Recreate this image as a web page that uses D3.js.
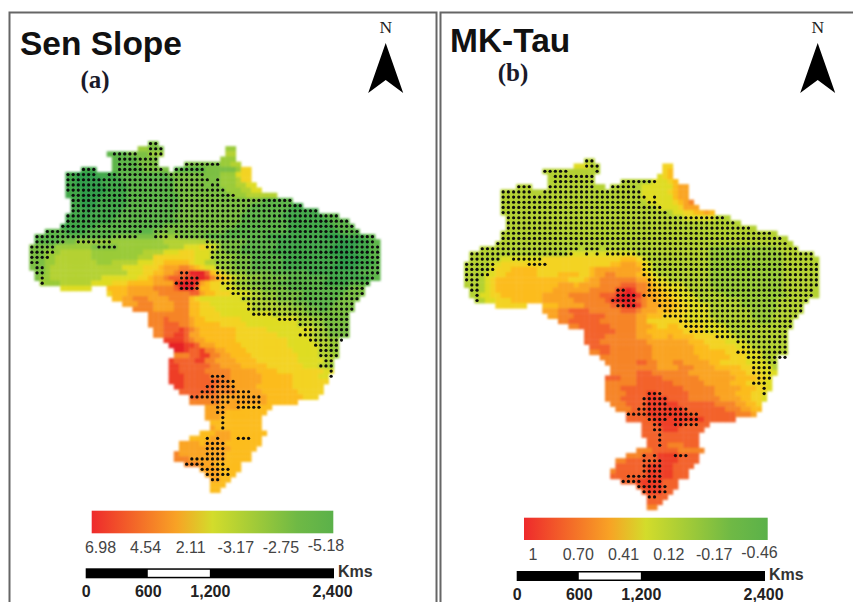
<!DOCTYPE html>
<html>
<head>
<meta charset="utf-8">
<script src="https://cdn.jsdelivr.net/npm/d3@7"></script>
<style>
	html, body { margin: 0; padding: 0; background: #fff; overflow: hidden; }
	svg { display: block; }
</style>
</head>
<body>
<div id="chart"></div>
<script>
// grid cells per row: start column, then level+run tokens ("_" = no cell)
var senCells = [
	"23 k2",
	"21 j2 k3 _12 j2",
	"15 l4 k4 j3 _12 i2",
	"16 l5 k4 _12 j3",
	"16 l5 k4 _5 k7 j2 i2",
	"10 m3 _3 l6 k5 _1 l6 k6 j1 g2",
	"7 m2 n4 m4 l10 k10 j3 h1 g2",
	"7 m2 n5 m4 l10 k9 j3 i1 g2",
	"7 m2 n5 m5 l9 k9 j3 i2 h2",
	"7 m3 n5 m4 l9 k10 j3 i2 h2",
	"7 m3 n4 m5 l10 k10 j3 i6",
	"8 m2 n3 m6 l10 k16 l6",
	"8 m2 n3 m6 l10 k14 l8 m2",
	"8 m3 n1 m6 l11 k13 l8 m6",
	"7 m3 n1 m6 l11 k13 l8 m8 l3",
	"7 m9 l13 k12 l9 m8 l4",
	"6 m7 l13 k14 l10 m9 l4",
	"3 l4 m4 l13 k14 l12 m10 l4",
	"1 l15 k9 j4 k5 l12 m11 n4 m4 l2",
	"1 l5 k3 j17 i9 j2 k5 l6 m12 n4 m2 l2",
	"0 k5 j7 k5 j10 i3 h3 g1 h2 i1 k4 l7 m11 n4 m3 l2",
	"0 k3 j3 i6 j10 i4 h3 g3 h3 i1 j2 k3 l6 m11 n5 m3 l2",
	"0 k3 j2 i7 j9 i3 g8 h3 i1 j4 k3 l6 m11 n4 m2 l2",
	"0 k3 j2 i8 j3 i5 h3 g2 f5 g1 h2 i2 j3 k4 l6 m11 n4 m3 l1",
	"0 k3 j1 i14 h4 g3 f1 e3 d2 e1 f1 g1 h2 i1 j3 k3 l6 m10 n4 m3 l2",
	"1 k2 j1 i15 h3 g2 f2 e2 d1 c2 a3 c1 f1 g1 h1 i1 j3 k5 l7 m10 l4",
	"1 k1 j2 i10 h7 g2 f1 e2 d1 c3 b2 a2 b1 d1 e1 f1 g1 h1 i2 j3 k5 l8 m8 l2",
	"2 j4 i6 h4 g3 f5 e4 b1 a3 b1 e1 f1 g2 h2 i1 j3 k5 l9 m5 l4",
	"6 h6 _3 f4 e5 d4 c1 a3 c1 f2 g2 h3 i2 j3 k5 l12 k3",
	"15 g1 f3 e6 d6 c2 e1 f2 g3 h4 i2 j3 k5 l8 k4",
	"16 f2 e2 d3 e4 d4 f1 g1 h8 i4 j3 k4 l8 k4",
	"18 e3 d3 e4 d3 f2 g2 h8 i5 j3 k3 l5 k4",
	"20 d4 e4 d3 f2 g3 h7 i7 j3 k3 l2 k5",
	"23 d8 f2 g4 h10 i5 j2 k8",
	"23 d3 c1 d4 e1 f2 g7 h9 h2 i3 j2 k5",
	"23 d3 c3 d2 e1 f5 g5 h10 i3 j2 k5",
	"24 d2 c3 b1 c1 d1 e1 f7 g6 h9 i2 j1 k4",
	"24 d2 c2 b2 c1 e2 f7 g8 h6 i2 j2 k4",
	"26 b4 c1 d1 e2 f6 g10 h5 i3 j2",
	"27 a3 b2 c1 e3 f5 g9 h6 i2 j2",
	"28 a2 b1 c2 b1 d2 e2 f4 g9 h5 i2 j2",
	"28 d3 c2 b2 d2 e2 f4 g9 h4 i3 j1",
	"27 b1 c4 b2 d2 e4 f4 g8 h5 i2",
	"27 b2 c6 d2 e4 f5 g7 h3 i2 j1",
	"27 b2 c5 d5 e5 f4 g9 h2",
	"27 b3 c5 d4 e6 f6 g5 h2",
	"27 b3 c7 d2 e6 f6 g7",
	"28 b2 c6 d3 e5 f7 g6",
	"29 c7 d4 e5 f7 g5",
	"31 c2 d4 e9 f7 g3",
	"31 d6 e9 f6",
	"34 e7 f6",
	"34 e4 f8",
	"34 e3 f8",
	"35 f10",
	"35 e1 f9",
	"33 f3 e3 f7",
	"31 f4 e4 f6",
	"29 e4 f1 e4 f7",
	"29 e10 f5",
	"28 d1 e9 f5",
	"28 d3 e7 f5",
	"30 d3 e3 f5",
	"33 e4 f4",
	"34 e3 f3",
	"35 e2 f2",
	"35 f3",
	"35 f2"
];

// column ranges carrying a significance dot, one entry per row
var senDots = [
	"23-24", "23-25", "16-20 23-25", "17-24", "17-24 30-36", "10-12 17-25 28-33",
	"7-12 15-33", "7-34 36", "7-33 35-36", "7-37", "8-39", "8-50", "8-52", "8-55",
	"7-59", "7-61", "6-62", "3-21 24-26 28-63", "1-20 24-26 28-66", "1-6 9-15 34-66",
	"0-4 13-16 34-67", "0-4 35-67", "0-3 35-67", "0-1 36-67", "1-2 36-67",
	"1-2 29-30 36-67", "2 29-32 36-66", "2 28-32 37-65", "29-32 38-64", "39-64",
	"41-63", "42-62", "42-62", "43-61", "48-61", "52-61", "53-61", "52-61", "54-60",
	"55-59", "56-59", "56-59", "57-58", "56-58", "58", "35-37 58", "35-39", "34-39",
	"33-42", "31-44", "35-38 40-44", "36-37 40-44", "36-37", "37", "37", "37", "",
	"34 36 40-42", "34-37", "34-37", "34-37", "31-37", "30-33 35-37", "33-38", "34-38",
	"35-36", "", ""
];

var tauCells = [
	"23 i2",
	"21 h3 i2 _12 g2",
	"15 i11 _12 g1 f1",
	"16 i9 _12 h1 g1 f1",
	"16 i9 _5 i6 h3 g1 f1",
	"10 i3 _3 i11 _1 i6 h6 f1 e2",
	"7 i27 h5 g1 f1 e2",
	"7 i27 h6 f1 e2",
	"7 i28 h5 g1 f1 e1 d1",
	"7 i30 h4 g1 e3",
	"7 i33 h2 g2 f2 e1 f1",
	"8 i34 h6 i3",
	"8 i45",
	"8 i48",
	"7 i53",
	"7 i55",
	"6 i57",
	"3 i44 j13 i4",
	"1 i19 h13 i14 j14 i6",
	"1 i6 h8 g15 f3 g1 h1 i12 j14 i7",
	"0 i5 h2 g21 f2 e3 f1 g1 h1 i11 j14 i7",
	"0 i5 h1 g3 f5 g10 f1 e9 g1 h1 i11 j14 i7",
	"0 i4 h2 g2 f6 g4 f4 g2 f1 e2 d2 e4 f2 g1 h1 i10 j14 i7",
	"0 i4 h1 g1 f14 g3 f1 e2 d7 e2 f1 g1 h2 i8 j14 i7",
	"0 i4 h1 g1 f12 e3 f1 e4 d4 c3 d2 e1 f1 g2 h3 i5 j14 i7",
	"1 i3 h1 g1 f11 e7 d5 b2 a1 b1 d2 e1 f2 g2 h3 i5 j13 i7",
	"1 i2 h2 g2 f8 e5 d6 c3 b1 a3 b1 d1 e2 f2 g2 h3 i6 j12 i6",
	"2 i2 h2 g3 f6 e6 d6 c1 b1 a3 b1 c1 d1 e2 f3 g2 h3 i8 j7 i6",
	"6 g6 _3 f3 e5 d5 c2 b1 a2 b1 d1 e3 f3 g2 h4 i6 j7 i5",
	"15 e3 d2 c4 d6 c3 d1 e3 f3 g3 h4 i8 j5 i5",
	"16 e2 d3 c6 d6 e2 f3 g4 h5 i8 j4 i5",
	"18 d2 c6 d7 e2 g8 h5 i8 j3 i4",
	"20 d2 c6 d5 e3 f1 g2 f2 g5 h4 i13",
	"23 c6 d4 e2 f7 g4 h5 i11",
	"23 c4 d6 e3 f3 e1 f4 g5 h3 i10",
	"23 c3 d9 e4 e4 f3 g4 h4 i8",
	"24 c4 d8 e8 f3 g5 h3 i7",
	"24 d2 c2 d8 e8 f6 g4 h3 i5",
	"26 d10 e9 f6 g3 h3 i3",
	"27 d6 c2 d2 e3 d2 e5 f2 g5 h4 i2",
	"28 d9 e4 d3 e4 f5 g3 h3 i1",
	"28 d5 c3 d7 e8 f3 g3 h3",
	"27 c3 d3 c5 d7 e7 f4 g2 h1",
	"27 d6 c7 d6 e5 f3 g3 h2",
	"27 d3 c12 d6 e5 f3 g2 h1",
	"27 d4 c4 b2 c6 d5 e4 f3 g2 h1",
	"27 d3 c5 b4 c4 d6 e4 f2 g2 h1",
	"28 d3 c4 b6 c7 d4 e2 f2 g1",
	"29 d3 c3 b7 c8 d3 e2 f2",
	"31 c4 b8 c9 d3 e1",
	"31 c5 b10 c6",
	"34 c3 b5 c5",
	"34 c4 b3 c5",
	"34 c11",
	"35 c10",
	"35 c4 d3 c3",
	"33 d3 c5 d5",
	"31 d3 c3 b4 c4",
	"29 d2 c6 b4 c4",
	"29 c6 b5 c4",
	"28 d1 c6 b5 c3",
	"28 c7 b5 c3",
	"30 c3 b5 c3",
	"33 c1 b4 c3",
	"34 c1 b3 c2",
	"35 c4",
	"35 c3",
	"35 d2"
];

var tauDots = [
	"23-24", "23-25", "15-19 25", "17-24", "17-24 30-36", "10-12 16-24 28-32",
	"7-12 15-33", "7-34 36", "7-33 35-36", "7-37", "7-38", "8-49", "8-51", "8-54",
	"7-58", "7-60", "6-61", "3-21 23-25 27-63", "1-20 23 25 27-66", "1-6 9-14 34-66",
	"0-5 12-15 34-67", "0-5 34-67", "0-4 34-67", "0-2 35-67", "1-2 35-67",
	"1-2 29-30 35-66", "2 29-32 34-66", "2 28-32 36-65", "29-32 37-64", "38-64",
	"38-63", "41-62", "42-62", "43-61", "48-61", "52-61", "53-61", "52-61", "54-61",
	"55-59", "55-58", "55-58", "56-58", "55-57", "57", "35-37 57", "34-38", "34-38",
	"33-42", "31-44", "35-38 40-44", "36-37 40-44", "36-37", "37", "37", "37", "",
	"34 36 40-42", "34-37", "34-37", "34-37", "31-37", "30-33 35-37", "33-38", "34-38",
	"35-36", "", ""
];

var levelKeys = "abcdefghijklmn".split("");
var levelColors = ["#e62028", "#ee3d25", "#f3622a", "#f68426", "#faa424", "#fcbc1f", "#f3d320",
	"#dfdc24", "#b4d130", "#9acb39", "#7bbf42", "#5db549", "#42a84a", "#2f9c49"];

var senTicks = ["6.98", "4.54", "2.11", "-3.17", "-2.75", "-5.18"];
var tauTicks = ["1", "0.70", "0.41", "0.12", "-0.17", "-0.46"];
var scaleTicks = [0, 600, 1200, 2400];

var legendStops = [
	{ at: 0, color: "#ee2a2c" },
	{ at: 0.35, color: "#f8a225" },
	{ at: 0.5, color: "#d3dc2b" },
	{ at: 0.85, color: "#6fb945" },
	{ at: 1, color: "#5bb14a" }
];

var panels = [
	{
		id: "a", title: "Sen Slope", titleX: 20, titleY: 55, tag: "(a)", tagX: 95, tagY: 88,
		cells: senCells, dots: senDots, ticks: senTicks,
		x0: 29.3, y0: 141, cw: 5.16, ch: 5.17,
		north: 385.7,
		legend: { x0: 91.7, x1: 333.3, y0: 510.7, y1: 533.3, label0: 100.5, label1: 326, labelY: 552.5 },
		bar: { x0: 85.7, x1: 334, y0: 568.3, y1: 578.3, labelY: 597 }
	},
	{
		id: "b", title: "MK-Tau", titleX: 450, titleY: 52, tag: "(b)", tagX: 513, tagY: 81,
		cells: tauCells, dots: tauDots, ticks: tauTicks,
		x0: 464, y0: 158.3, cw: 5.22, ch: 5.17,
		north: 817.7,
		legend: { x0: 524, x1: 767.7, y0: 517.7, y1: 540, label0: 533, label1: 759.5, labelY: 560 },
		bar: { x0: 516.7, x1: 765, y0: 571, y1: 581, labelY: 600 }
	}
];

var width = 853, height = 602;
var sans = "'Liberation Sans', Arial, sans-serif";
var serif = "'Liberation Serif', 'Times New Roman', serif";

var levelColor = d3.scaleOrdinal().domain(levelKeys).range(levelColors);

// "23 k2 _4 j3" -> [{row, col, level}, ...]
function parseCells(rows) {
	var out = [];
	rows.forEach(function(line, row) {
		var parts = line.split(" ");
		var col = +parts[0];
		parts.slice(1).forEach(function(token) {
			var level = token.charAt(0);
			var run = +token.slice(1);
			for (var i = 0; i < run; i++) {
				if (level != "_") out.push({ row: row, col: col, level: level });
				col++;
			}
		});
	});
	return out;
}

function parseDots(rows) {
	var out = [];
	rows.forEach(function(line, row) {
		if (!line) return;
		line.split(" ").forEach(function(range) {
			var ends = range.split("-");
			var last = ends.length > 1 ? +ends[1] : +ends[0];
			for (var col = +ends[0]; col <= last; col++) {
				out.push({ row: row, col: col });
			}
		});
	});
	return out;
}

var svg = d3.select("#chart").append("svg")
	.attr("width", width)
	.attr("height", height);

var defs = svg.append("defs");

// the source picture is a soft scan, the maps need some blur
function addBlur(id, amount) {
	defs.append("filter")
		.attr("id", id)
		.attr("x", "-5%").attr("y", "-5%").attr("width", "110%").attr("height", "110%")
		.append("feGaussianBlur")
		.attr("stdDeviation", amount);
}
addBlur("softCells", 1);
addBlur("softDots", 0.4);

var gradient = defs.append("linearGradient").attr("id", "ramp");
gradient.selectAll("stop")
	.data(legendStops)
	.enter().append("stop")
	.attr("offset", function(d) { return d.at; })
	.attr("stop-color", function(d) { return d.color; });

// panel frames
svg.append("rect")
	.attr("x", 9.5).attr("y", 12.5)
	.attr("width", 427).attr("height", 620)
	.attr("fill", "none").attr("stroke", "#666").attr("stroke-width", 2);
svg.append("rect")
	.attr("x", 440.5).attr("y", 12.5)
	.attr("width", 440).attr("height", 620)
	.attr("fill", "none").attr("stroke", "#666").attr("stroke-width", 2);

panels.forEach(function(p) {
	var g = svg.append("g").attr("id", "panel-" + p.id);

	g.append("text")
		.attr("x", p.titleX).attr("y", p.titleY)
		.style("font", "bold 33.5px " + sans)
		.style("fill", "#111")
		.text(p.title);

	g.append("text")
		.attr("x", p.tagX).attr("y", p.tagY)
		.attr("text-anchor", "middle")
		.style("font", "bold 25px " + serif)
		.style("fill", "#1a1a2a")
		.text(p.tag);

	// north arrow
	g.append("text")
		.attr("x", p.north).attr("y", 33)
		.attr("text-anchor", "middle")
		.style("font", "17.5px " + serif)
		.style("fill", "#222")
		.text("N");
	g.append("path")
		.attr("d", d3.line()([[p.north, 43], [p.north + 17.5, 93], [p.north, 80], [p.north - 17.5, 93]]) + "Z")
		.attr("fill", "#000");

	// grid map
	var xCol = d3.scaleLinear().domain([0, 1]).range([p.x0, p.x0 + p.cw]);
	var yRow = d3.scaleLinear().domain([0, 1]).range([p.y0, p.y0 + p.ch]);

	g.append("g").attr("filter", "url(#softCells)")
		.selectAll("rect")
		.data(parseCells(p.cells))
		.enter().append("rect")
		.attr("x", function(d) { return xCol(d.col); })
		.attr("y", function(d) { return yRow(d.row); })
		.attr("width", p.cw + 0.4)
		.attr("height", p.ch + 0.4)
		.attr("fill", function(d) { return levelColor(d.level); });

	g.append("g").attr("filter", "url(#softDots)")
		.selectAll("circle")
		.data(parseDots(p.dots))
		.enter().append("circle")
		.attr("cx", function(d) { return xCol(d.col + 0.5); })
		.attr("cy", function(d) { return yRow(d.row + 0.5); })
		.attr("r", 1.6)
		.attr("fill", "#0a0a0a");

	// colour legend
	g.append("rect")
		.attr("x", p.legend.x0).attr("y", p.legend.y0)
		.attr("width", p.legend.x1 - p.legend.x0)
		.attr("height", p.legend.y1 - p.legend.y0)
		.attr("fill", "url(#ramp)");

	var tickX = d3.scalePoint().domain(p.ticks).range([p.legend.label0, p.legend.label1]);
	g.selectAll(".legend-label")
		.data(p.ticks)
		.enter().append("text")
		.attr("class", "legend-label")
		.attr("x", function(d) { return tickX(d); })
		.attr("y", function(d, i) { return p.legend.labelY - (i == 5 ? 2 : 0); })
		.attr("text-anchor", "middle")
		.style("font", "16px " + sans)
		.style("fill", "#444")
		.text(function(d) { return d; });

	// scale bar, black with a white 600-1200 segment
	var barX = d3.scaleLinear().domain([0, 2400]).range([p.bar.x0, p.bar.x1]);
	g.append("rect")
		.attr("x", barX(0)).attr("y", p.bar.y0)
		.attr("width", barX(2400) - barX(0))
		.attr("height", p.bar.y1 - p.bar.y0)
		.attr("fill", "#000");
	g.append("rect")
		.attr("x", barX(600)).attr("y", p.bar.y0 + 1.5)
		.attr("width", barX(1200) - barX(600))
		.attr("height", p.bar.y1 - p.bar.y0 - 3)
		.attr("fill", "#fff");

	var axis = d3.axisBottom(barX)
		.tickValues(scaleTicks)
		.tickFormat(d3.format(","))
		.tickSize(0);
	var axisG = g.append("g")
		.attr("transform", "translate(0," + p.bar.y1 + ")")
		.call(axis);
	axisG.select(".domain").remove();
	axisG.selectAll("text")
		.attr("y", p.bar.labelY - p.bar.y1)
		.attr("dy", 0)
		.attr("x", function(d) { return d == 2400 ? -2 : 0; })
		.style("font", "bold 16px " + sans)
		.style("fill", "#222");

	g.append("text")
		.attr("x", p.bar.x1 + 4).attr("y", p.bar.y1 - 1.5)
		.style("font", "bold 16px " + sans)
		.style("fill", "#333")
		.text("Kms");
});
</script>
</body>
</html>
